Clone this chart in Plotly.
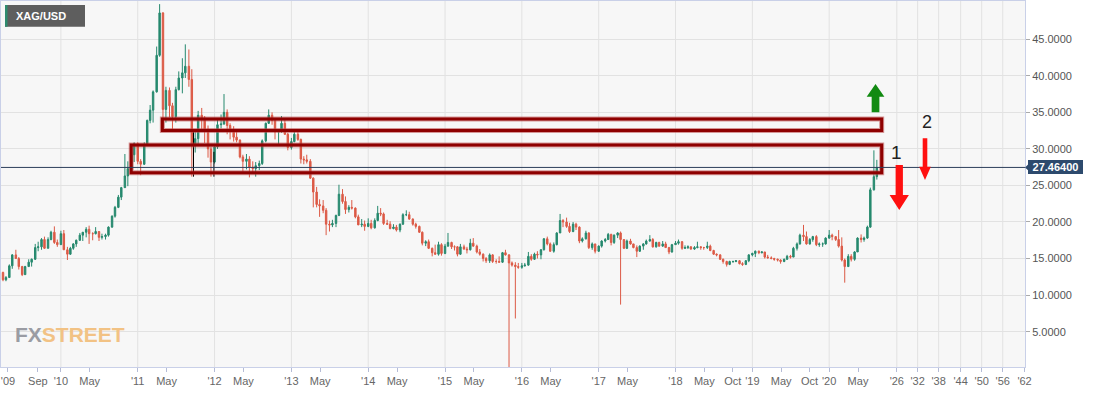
import numpy as np
import pandas as pd
import plotly.graph_objects as go

# ---------------- data (semi-monthly XAG/USD candles) ----------------
candle_start = "2009-03-15"

opens = [
    12.8, 13.1, 12.1, 12.4, 14.0, 15.5, 15.0, 13.9, 12.8, 13.9, 14.5, 14.9, 16.5, 16.6, 17.6, 16.4, 17.6, 18.6, 17.2,
    16.9, 18.4, 16.2, 15.6, 16.4, 17.0, 17.5, 18.2, 18.6, 19.0, 18.4, 18.4, 18.7, 17.9, 18.0, 18.2, 19.3, 20.8, 22.0, 23.4, 24.7, 26.3, 27.3, 29.2,
    30.7, 28.3, 27.9, 30.6, 33.9, 35.3, 37.8, 42.8, 48.6, 35.4, 38.0, 35.9, 34.4, 38.1, 39.7, 40.4, 41.3, 39.5, 30.4, 31.4, 34.6, 34.2, 32.7, 30.0,
    28.2, 30.3, 33.3, 33.4, 35.0, 33.2, 32.4, 31.6, 31.2, 28.9, 28.3, 28.6, 27.5, 27.3, 27.7, 28.0, 31.1, 33.5, 34.6, 33.9, 32.3, 32.4, 33.5, 32.0,
    30.2, 31.0, 32.0, 31.3, 28.6, 28.5, 28.3, 26.0, 24.1, 22.4, 22.2, 21.6, 19.7, 19.6, 19.8, 20.9, 23.8, 22.8, 21.7, 22.0, 21.9, 20.7, 19.6, 19.7,
    19.4, 19.8, 19.2, 20.2, 21.2, 21.1, 19.8, 19.7, 19.1, 19.3, 18.9, 19.7, 21.0, 21.0, 20.4, 19.7, 19.4, 18.6, 17.1, 17.3, 16.4, 15.8, 15.6, 16.9,
    15.7, 16.7, 17.2, 16.6, 16.6, 15.6, 16.6, 16.3, 16.2, 17.1, 16.7, 15.9, 15.6, 15.0, 14.7, 15.5, 14.6, 14.6, 14.5, 15.8, 15.5, 14.4, 14.1, 13.9,
    13.8, 14.0, 14.1, 15.3, 14.9, 15.6, 15.5, 16.2, 17.7, 17.0, 16.0, 16.9, 18.5, 20.2, 20.0, 19.4, 18.7, 19.7, 19.3, 17.4, 17.7, 18.5, 16.5, 17.0,
    16.0, 16.7, 17.4, 17.6, 18.3, 17.2, 18.2, 18.5, 17.6, 16.4, 17.4, 17.0, 16.5, 16.0, 16.7, 17.0, 17.4, 17.6, 16.6, 17.2, 16.7, 17.0, 16.5, 15.9,
    16.9, 17.1, 17.3, 16.4, 16.5, 16.6, 16.3, 16.5, 16.6, 16.5, 16.5, 16.7, 16.1, 15.6, 15.5, 14.9, 14.6, 14.2, 14.6, 14.6, 14.7, 14.3, 14.2, 14.7,
    15.5, 15.7, 16.0, 15.8, 15.9, 15.2, 15.1, 15.0, 14.9, 14.8, 14.6, 14.9, 15.3, 15.2, 16.4, 17.0, 18.2, 18.0, 17.0, 17.6, 18.0, 16.9, 17.0, 17.0,
    17.8, 18.2, 18.0, 17.6, 16.7, 14.8, 13.9, 15.3, 14.9, 15.9, 17.8, 17.6, 17.8, 19.3, 24.4, 26.2,
]
highs = [
    14.0, 13.2, 12.6, 14.2, 15.6, 16.2, 15.2, 14.0, 14.0, 14.9, 15.0, 17.0, 17.3, 17.8, 18.0, 17.9, 18.8, 19.4, 17.6,
    18.8, 18.9, 16.6, 16.6, 17.1, 17.6, 18.5, 18.6, 19.3, 19.5, 18.6, 19.3, 18.7, 18.4, 18.4, 19.4, 20.9, 22.2, 23.7, 24.8, 29.3, 28.3, 30.0, 30.9,
    30.9, 28.6, 30.9, 34.0, 36.0, 38.0, 44.0, 49.8, 48.7, 38.5, 38.4, 36.3, 38.5, 40.6, 42.4, 44.3, 43.6, 40.9, 32.6, 35.2, 35.6, 34.5, 33.2, 30.3,
    30.6, 34.0, 34.7, 37.5, 35.4, 33.5, 33.1, 32.4, 31.3, 29.2, 29.3, 29.0, 28.3, 28.2, 28.4, 31.3, 33.6, 35.4, 35.0, 34.0, 32.7, 34.5, 34.0, 32.2,
    31.5, 32.5, 32.4, 31.4, 29.0, 29.2, 28.6, 26.1, 24.8, 23.1, 23.0, 21.9, 20.2, 20.3, 21.0, 25.1, 24.5, 23.5, 22.3, 23.0, 22.0, 21.0, 20.4, 20.2,
    20.5, 20.3, 20.5, 22.2, 21.9, 21.3, 20.3, 20.1, 19.7, 19.6, 19.8, 21.2, 21.6, 21.4, 20.5, 19.9, 19.5, 18.7, 17.5, 17.6, 16.5, 16.9, 17.3, 17.1,
    17.0, 18.5, 17.3, 16.8, 16.7, 17.0, 16.9, 16.6, 17.7, 17.8, 16.9, 16.3, 15.7, 15.2, 15.7, 15.6, 14.9, 15.3, 15.9, 16.2, 15.6, 14.6, 14.5, 14.4,
    14.4, 14.4, 15.9, 15.6, 15.8, 16.0, 16.3, 17.8, 18.0, 17.2, 17.2, 18.6, 21.1, 20.4, 20.6, 19.9, 20.0, 19.9, 19.4, 17.9, 18.8, 18.6, 17.2, 17.0,
    16.8, 17.5, 17.8, 18.5, 18.4, 18.3, 18.6, 18.7, 17.6, 17.6, 17.7, 17.0, 16.8, 16.8, 17.1, 17.6, 18.2, 17.8, 17.3, 17.3, 17.4, 17.3, 16.6, 17.0,
    17.4, 17.6, 17.4, 16.8, 16.8, 16.7, 16.7, 17.3, 16.7, 16.6, 17.3, 16.9, 16.2, 15.7, 15.6, 15.0, 14.7, 14.7, 14.7, 14.8, 14.8, 14.5, 14.8, 15.6,
    15.8, 16.1, 16.1, 16.0, 15.9, 15.5, 15.3, 15.1, 15.0, 14.9, 15.0, 15.5, 15.5, 16.6, 17.2, 18.4, 19.6, 18.7, 17.8, 18.1, 18.2, 17.2, 17.2, 17.9,
    18.9, 18.4, 18.0, 18.9, 17.9, 15.0, 15.6, 15.6, 16.0, 17.9, 18.3, 18.0, 19.5, 24.7, 29.8, 28.5,
]
lows = [
    12.6, 11.9, 11.9, 12.4, 13.6, 15.0, 13.5, 12.6, 12.8, 13.9, 13.9, 14.8, 16.0, 16.2, 16.3, 16.4, 17.5, 17.0, 16.6,
    16.9, 16.2, 14.8, 15.5, 16.2, 16.6, 17.4, 17.4, 17.9, 17.0, 17.5, 18.3, 17.4, 17.6, 17.6, 18.0, 19.2, 20.6, 21.9, 23.0, 24.7, 24.9, 27.2, 28.2,
    27.9, 26.4, 27.8, 30.5, 33.5, 33.6, 37.7, 42.6, 33.0, 33.6, 34.3, 32.4, 33.6, 38.0, 37.6, 39.7, 38.5, 26.2, 29.5, 30.4, 32.5, 30.8, 28.8, 26.2,
    28.0, 30.0, 32.8, 33.3, 32.0, 31.3, 31.0, 30.9, 28.7, 26.9, 27.2, 26.1, 26.6, 26.2, 27.1, 27.8, 30.9, 33.4, 33.3, 31.3, 30.5, 32.2, 31.9, 29.8,
    29.9, 30.9, 31.1, 28.0, 27.9, 28.0, 25.9, 22.0, 22.0, 20.7, 21.2, 18.2, 18.7, 19.3, 19.3, 20.8, 22.5, 21.1, 21.3, 21.7, 20.5, 19.6, 19.3, 18.8,
    19.3, 19.0, 19.1, 20.1, 20.8, 19.6, 19.6, 19.0, 19.0, 18.7, 18.6, 19.6, 20.8, 20.3, 19.5, 19.1, 18.5, 16.8, 16.7, 16.3, 15.3, 15.5, 15.4, 15.4,
    15.6, 16.6, 16.3, 16.1, 15.3, 15.5, 16.2, 15.7, 16.1, 16.6, 15.7, 15.4, 14.6, 14.4, 14.4, 14.4, 14.3, 14.5, 14.4, 15.4, 0.1, 13.9, 6.8, 13.6,
    13.6, 13.9, 14.0, 14.7, 14.8, 15.0, 14.9, 16.1, 16.8, 15.9, 15.8, 16.8, 18.5, 19.3, 19.2, 18.5, 18.6, 18.9, 17.1, 17.2, 17.6, 16.3, 16.2, 15.7,
    15.9, 16.5, 17.2, 17.6, 16.8, 17.0, 17.8, 8.7, 16.3, 16.3, 16.9, 16.4, 15.2, 15.9, 16.2, 16.9, 17.3, 16.5, 16.5, 16.6, 16.6, 16.5, 15.6, 15.8,
    16.9, 16.9, 16.2, 16.3, 16.3, 16.2, 16.2, 16.4, 16.2, 16.2, 16.3, 16.0, 15.5, 15.3, 14.8, 14.3, 13.9, 14.1, 14.4, 14.5, 14.2, 14.0, 14.1, 14.5,
    15.3, 15.2, 15.6, 15.7, 15.0, 15.0, 14.9, 14.7, 14.6, 14.3, 14.5, 14.8, 15.0, 15.2, 16.1, 16.9, 17.4, 16.9, 16.9, 17.3, 16.7, 16.6, 16.6, 16.9,
    17.7, 17.5, 17.4, 16.5, 14.6, 11.7, 13.9, 14.6, 14.7, 15.9, 17.2, 17.3, 17.7, 19.2, 24.3, 25.8,
]
closes = [
    13.1, 12.1, 12.4, 14.0, 15.5, 15.0, 13.9, 12.8, 13.9, 14.5, 14.9, 16.5, 16.6, 17.6, 16.4, 17.6, 18.6, 17.2, 16.9,
    18.4, 16.2, 15.6, 16.4, 17.0, 17.5, 18.2, 18.6, 19.0, 18.4, 18.4, 18.7, 17.9, 18.0, 18.2, 19.3, 20.8, 22.0, 23.4, 24.7, 26.3, 27.3, 29.2, 30.7,
    28.3, 27.9, 30.6, 33.9, 35.3, 37.8, 42.8, 48.6, 35.4, 38.0, 35.9, 34.4, 38.1, 39.7, 40.4, 41.3, 39.5, 30.4, 31.4, 34.6, 34.2, 32.7, 30.0, 28.2,
    30.3, 33.3, 33.4, 35.0, 33.2, 32.4, 31.6, 31.2, 28.9, 28.3, 28.6, 27.5, 27.3, 27.7, 28.0, 31.1, 33.5, 34.6, 33.9, 32.3, 32.4, 33.5, 32.0, 30.2,
    31.0, 32.0, 31.3, 28.6, 28.5, 28.3, 26.0, 24.1, 22.4, 22.2, 21.6, 19.7, 19.6, 19.8, 20.9, 23.8, 22.8, 21.7, 22.0, 21.9, 20.7, 19.6, 19.7, 19.4,
    19.8, 19.2, 20.2, 21.2, 21.1, 19.8, 19.7, 19.1, 19.3, 18.9, 19.7, 21.0, 21.0, 20.4, 19.7, 19.4, 18.6, 17.1, 17.3, 16.4, 15.8, 15.6, 16.9, 15.7,
    16.7, 17.2, 16.6, 16.6, 15.6, 16.6, 16.3, 16.2, 17.1, 16.7, 15.9, 15.6, 15.0, 14.7, 15.5, 14.6, 14.6, 14.5, 15.8, 15.5, 14.4, 14.1, 13.9, 13.8,
    14.0, 14.1, 15.3, 14.9, 15.6, 15.5, 16.2, 17.7, 17.0, 16.0, 16.9, 18.5, 20.2, 20.0, 19.4, 18.7, 19.7, 19.3, 17.4, 17.7, 18.5, 16.5, 17.0, 16.0,
    16.7, 17.4, 17.6, 18.3, 17.2, 18.2, 18.5, 17.6, 16.4, 17.4, 17.0, 16.5, 16.0, 16.7, 17.0, 17.4, 17.6, 16.6, 17.2, 16.7, 17.0, 16.5, 15.9, 16.9,
    17.1, 17.3, 16.4, 16.5, 16.6, 16.3, 16.5, 16.6, 16.5, 16.5, 16.7, 16.1, 15.6, 15.5, 14.9, 14.6, 14.2, 14.6, 14.6, 14.7, 14.3, 14.2, 14.7, 15.5,
    15.7, 16.0, 15.8, 15.9, 15.2, 15.1, 15.0, 14.9, 14.8, 14.6, 14.9, 15.3, 15.2, 16.4, 17.0, 18.2, 18.0, 17.0, 17.6, 18.0, 16.9, 17.0, 17.0, 17.8,
    18.2, 18.0, 17.6, 16.7, 14.8, 13.9, 15.3, 14.9, 15.9, 17.8, 17.6, 17.8, 19.3, 24.4, 26.2, 27.464,
]

# odd off-colour ticks printed in black on the original
glitch_dates = ["2011-09-23", "2011-12-29"]
glitch_highs = [32.6, 29.6]
glitch_lows = [26.2, 26.2]

# marked price zones
zone_starts = ["2010-12-01", "2011-04-28"]
zone_ends = [2020.683, 2020.683]
zone_lows = [26.74, 32.52]
zone_highs = [30.53, 34.09]

# x axis (decimal-year positions) and tick labels
year_ticks = [2010, 2011, 2012, 2013, 2014, 2015, 2016, 2017, 2018, 2019, 2020]
year_labels = ["'10", "'11", "'12", "'13", "'14", "'15", "'16", "'17", "'18", "'19", "'20"]
month_ticks = [2009.311, 2009.70, 2010.375, 2011.375, 2012.375, 2013.375, 2014.375, 2015.375,
               2016.375, 2017.375, 2018.375, 2018.745, 2019.375, 2019.745, 2020.375]
month_labels = ["'09", "Sep", "May", "May", "May", "May", "May", "May",
                "May", "May", "May", "Oct", "May", "Oct", "May"]
future_ticks = [2020.880, 2021.151, 2021.425, 2021.711, 2021.985, 2022.259, 2022.543]
future_labels = ["'26", "'32", "'38", "'44", "'50", "'56", "'62"]
price_ticks = [5, 10, 15, 20, 25, 30, 35, 40, 45]

# ---------------- helpers ----------------
def to_decimal_year(d):
    d = pd.DatetimeIndex(pd.to_datetime(d))
    days = np.where(d.is_leap_year, 366.0, 365.0)
    return np.asarray(d.year + (d.dayofyear - 1) / days, dtype=float)

dates = pd.date_range(candle_start, periods=len(closes), freq="SMS")
xs = to_decimal_year(dates)

W, H = 1102, 393
ML, MR, MT, MB = 1, 77, 1, 26
PW, PH = W - ML - MR, H - MT - MB

def pxx(px):
    return (px - ML) / PW

def pxy(py):
    return (MT + PH - py) / PH

FONT = "Liberation Sans, Arial, sans-serif"
UP, DOWN = "#26896e", "#dc5a46"

fig = go.Figure()
fig.add_trace(go.Candlestick(
    x=xs, open=opens, high=highs, low=lows, close=closes,
    increasing=dict(line=dict(color=UP, width=1), fillcolor=UP),
    decreasing=dict(line=dict(color=DOWN, width=1), fillcolor=DOWN),
    whiskerwidth=0, hoverinfo="skip", showlegend=False,
))

gx_dec = to_decimal_year(glitch_dates)
gx, gy = [], []
for x, hi, lo in zip(gx_dec, glitch_highs, glitch_lows):
    gx += [x, x, None]
    gy += [hi, lo, None]
fig.add_trace(go.Scatter(x=gx, y=gy, mode="lines", line=dict(color="black", width=1),
                         hoverinfo="skip", showlegend=False))

shapes = []
# vertical gridlines at year ticks only
for t in year_ticks + future_ticks[:-1]:
    shapes.append(dict(type="line", xref="x", yref="paper", x0=t, x1=t, y0=0, y1=1,
                       line=dict(color="#e2e2e2", width=1), layer="below"))

# zones
zx0 = to_decimal_year(zone_starts)
for x0, x1, y0, y1 in zip(zx0, zone_ends, zone_lows, zone_highs):
    shapes.append(dict(type="rect", xref="x", yref="y", x0=x0, x1=x1, y0=y0, y1=y1,
                       line=dict(color="rgba(185,70,70,0.55)", width=5), layer="above"))
    shapes.append(dict(type="rect", xref="x", yref="y", x0=x0, x1=x1, y0=y0, y1=y1,
                       line=dict(color="#8e0000", width=3), layer="above"))

# last price line
last_price = closes[-1]
shapes.append(dict(type="line", xref="paper", yref="y", x0=0, x1=1, y0=last_price, y1=last_price,
                   line=dict(color="#2c3e5a", width=1), layer="above"))
shapes.append(dict(type="path", xref="paper", yref="y", xsizemode="pixel", ysizemode="pixel",
                   xanchor=pxx(1025), yanchor=last_price,
                   path="M 0 0 L 3.6 3.4 L 3.6 -3.4 Z", fillcolor="#2d4a6d",
                   line=dict(width=0), layer="above"))

# arrows (anchored at their flat end, pixel-sized)
arrows = [
    dict(x=2020.603, y=35.0, color="#128a12", sw=7.7, hw=17.7, sl=15.6, hl=12.7, d=1),
    dict(x=2020.912, y=27.80, color="#ff1010", sw=7.3, hw=19.3, sl=30.0, hl=15.0, d=-1),
    dict(x=2021.247, y=31.45, color="#ff1010", sw=4.6, hw=11.7, sl=28.4, hl=13.3, d=-1),
]
for a in arrows:
    s, h = a["sw"] / 2, a["hw"] / 2
    b = a["sl"] * a["d"]
    t = (a["sl"] + a["hl"]) * a["d"]
    path = f"M {-s} 0 L {s} 0 L {s} {b} L {h} {b} L 0 {t} L {-h} {b} L {-s} {b} Z"
    shapes.append(dict(type="path", xref="x", yref="y", xsizemode="pixel", ysizemode="pixel",
                       xanchor=a["x"], yanchor=a["y"], path=path, fillcolor=a["color"],
                       line=dict(width=0), layer="above"))

# symbol badge
shapes.append(dict(type="rect", xref="paper", yref="paper", x0=pxx(5), x1=pxx(85), y0=pxy(26.7), y1=pxy(5),
                   fillcolor="#5e5e5e", line=dict(width=0), layer="above"))
shapes.append(dict(type="rect", xref="paper", yref="paper", x0=pxx(5), x1=pxx(7.5), y0=pxy(26.7), y1=pxy(5),
                   fillcolor="#2e8b6e", line=dict(width=0), layer="above"))

annotations = [
    dict(text="<b>XAG/USD</b>", xref="paper", yref="paper", x=pxx(41.2), y=pxy(16), showarrow=False,
         xanchor="center", yanchor="middle", font=dict(family=FONT, size=11, color="white")),
    dict(text="<b>%.5f</b>" % last_price, xref="paper", yref="y", x=pxx(1055.8), y=last_price,
         showarrow=False, xanchor="center", yanchor="middle", bgcolor="#2d4a6d", borderpad=0,
         borderwidth=0, width=55, height=14, font=dict(family=FONT, size=11, color="white")),
    dict(text="<b><span style='color:#9a9ca3'>FX</span><span style='color:#f2c284'>STREET</span></b>",
         xref="paper", yref="paper", x=pxx(70), y=pxy(334), showarrow=False, xanchor="center",
         yanchor="middle", font=dict(family=FONT, size=21)),
    dict(text="1", xref="x", yref="y", x=2020.878, y=29.44, showarrow=False, xanchor="center",
         yanchor="middle", font=dict(family=FONT, size=19, color="#222222")),
    dict(text="2", xref="x", yref="y", x=2021.269, y=33.72, showarrow=False, xanchor="center",
         yanchor="middle", font=dict(family=FONT, size=18, color="#222222")),
]

tickvals = month_ticks + year_ticks + future_ticks
ticktext = month_labels + year_labels + future_labels

fig.update_layout(
    width=W, height=H, margin=dict(l=ML, r=MR, t=MT, b=MB),
    paper_bgcolor="white", plot_bgcolor="#f7f7f7",
    showlegend=False, hovermode=False,
    shapes=shapes, annotations=annotations,
    font=dict(family=FONT, size=11, color="#666666"),
    xaxis=dict(range=[2009.2204, 2022.5486], tickmode="array", tickvals=tickvals, ticktext=ticktext,
               showgrid=False, zeroline=False, showline=True, linecolor="#c9d0e8", mirror=True,
               ticks="outside", ticklen=4, tickcolor="#b5bcd6", ticklabeloverflow="allow",
               tickfont=dict(family=FONT, size=11, color="#666666"),
               rangeslider=dict(visible=False), fixedrange=True),
    yaxis=dict(range=[0.164, 50.23], side="right", tickmode="array", tickvals=price_ticks,
               tickformat=".4f", showgrid=True, gridcolor="#e2e2e2", zeroline=False,
               showline=True, linecolor="#c9d0e8", mirror=True, ticks="outside", ticklen=4,
               tickcolor="#aaaaaa", tickfont=dict(family=FONT, size=11, color="#555555"),
               fixedrange=True),
)

fig.write_html("out.html", config={"displayModeBar": False, "staticPlot": True},
               post_script="document.body.style.margin='0px';")
